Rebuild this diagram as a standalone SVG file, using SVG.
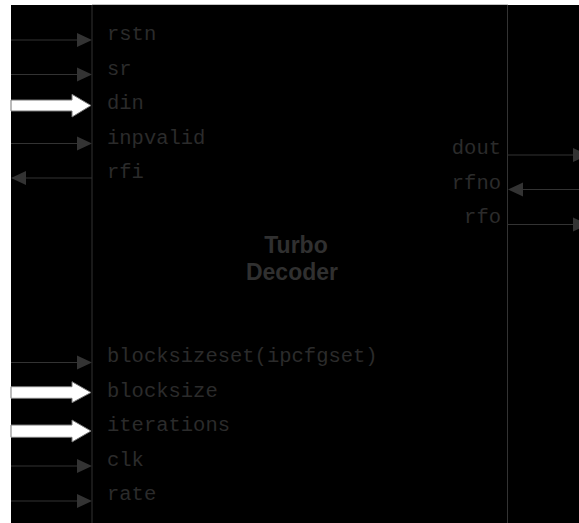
<svg xmlns="http://www.w3.org/2000/svg" width="579" height="523" viewBox="0 0 579 523">
<style>
.bg{fill:#000}
.edge{stroke:#333;stroke-width:1;fill:none}
.top{stroke:#c4c4c4;stroke-width:1}
.wire{stroke:#333;stroke-width:1;fill:none}
.head{fill:#333}
.bus{fill:#fff;stroke:#777;stroke-width:1}
.lbl{font-family:"Liberation Mono","Courier New",monospace;font-size:20.5px;fill:#2b2b2b}
.r{text-anchor:end}
.title{font-family:"Liberation Sans",Arial,sans-serif;font-size:23px;font-weight:bold;fill:#303030;text-anchor:middle}
</style>
<rect x="0" y="0" width="579" height="523" fill="#fff"/>
<rect class="bg" x="11" y="5" width="568" height="518"/>
<g id="turbo_decoder">
<line class="top" x1="92" y1="4.5" x2="508" y2="4.5"/>
<line class="edge" x1="92" y1="5" x2="92" y2="523"/>
<line class="edge" x1="507.5" y1="5" x2="507.5" y2="523"/>
<text class="title" x="296" y="253">Turbo</text>
<text class="title" x="292" y="280">Decoder</text>
</g>
<g id="ports">
<text class="lbl" x="107" y="40">rstn</text>
<text class="lbl" x="107" y="74.5">sr</text>
<text class="lbl" x="107" y="108.5">din</text>
<text class="lbl" x="107" y="143.5">inpvalid</text>
<text class="lbl" x="107" y="178">rfi</text>
<text class="lbl" x="107" y="362">blocksizeset(ipcfgset)</text>
<text class="lbl" x="107" y="396.5">blocksize</text>
<text class="lbl" x="107" y="431">iterations</text>
<text class="lbl" x="107" y="465.5">clk</text>
<text class="lbl" x="107" y="500">rate</text>
<text class="lbl r" x="501" y="154">dout</text>
<text class="lbl r" x="501" y="188.5">rfno</text>
<text class="lbl r" x="501" y="223">rfo</text>
</g>
<g id="connectors">
<line class="wire" x1="11" y1="40" x2="80" y2="40"/><path class="head" d="M77,33 L92,40 L77,47 Z"/>
<line class="wire" x1="11" y1="74.5" x2="80" y2="74.5"/><path class="head" d="M77,67.5 L92,74.5 L77,81.5 Z"/>
<path class="bus" d="M11,100 L72,100 L72,94.3 L91,105.5 L72,117 L72,111 L11,111 Z"/>
<line class="wire" x1="11" y1="143.5" x2="80" y2="143.5"/><path class="head" d="M77,136.5 L92,143.5 L77,150.5 Z"/>
<line class="wire" x1="24" y1="178" x2="92" y2="178"/><path class="head" d="M26,171 L11,178 L26,185 Z"/>
<line class="wire" x1="11" y1="362.5" x2="80" y2="362.5"/><path class="head" d="M77,355.5 L92,362.5 L77,369.5 Z"/>
<path class="bus" d="M11,386.7 L72,386.7 L72,381.7 L91,392.5 L72,402.7 L72,398.3 L11,398.3 Z"/>
<path class="bus" d="M11,425 L72,425 L72,420 L91,431 L72,442 L72,437.3 L11,437.3 Z"/>
<line class="wire" x1="11" y1="466" x2="80" y2="466"/><path class="head" d="M77,459 L92,466 L77,473 Z"/>
<line class="wire" x1="11" y1="501" x2="80" y2="501"/><path class="head" d="M77,494 L92,501 L77,508 Z"/>
<line class="wire" x1="507.5" y1="155" x2="576" y2="155"/><path class="head" d="M573,148 L588,155 L573,162 Z"/>
<line class="wire" x1="520" y1="189.5" x2="579" y2="189.5"/><path class="head" d="M523,182.5 L508,189.5 L523,196.5 Z"/>
<line class="wire" x1="507.5" y1="224.5" x2="576" y2="224.5"/><path class="head" d="M573,217.5 L588,224.5 L573,231.5 Z"/>
</g>
</svg>
